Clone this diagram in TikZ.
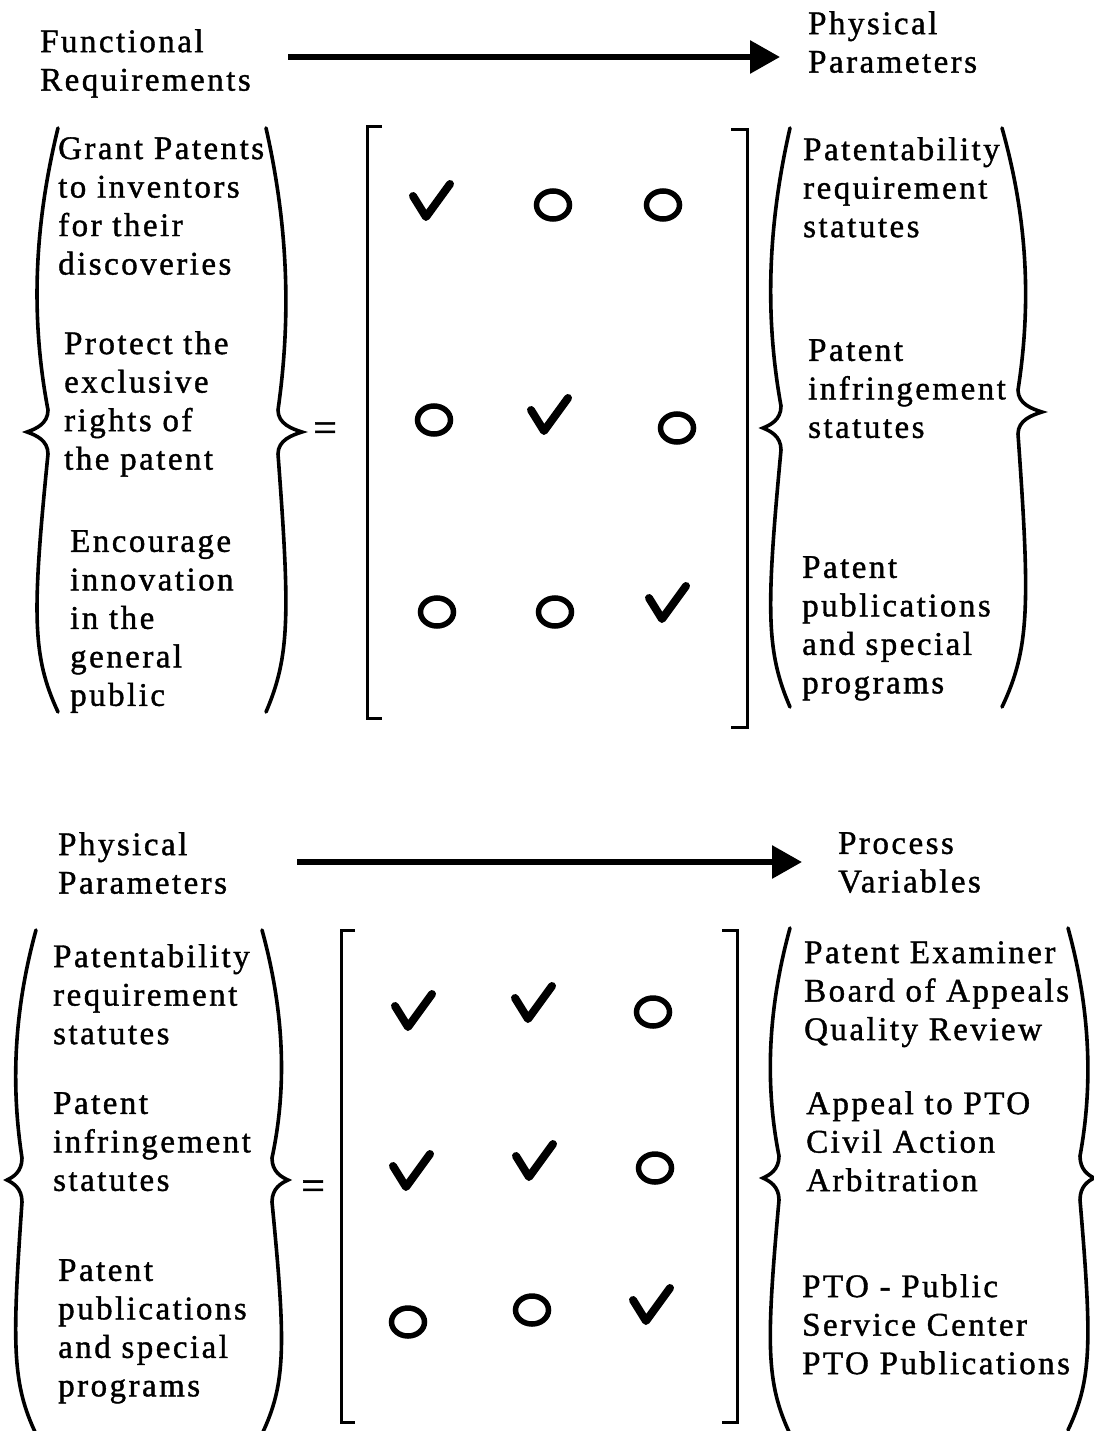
\documentclass[tikz,border=0pt]{standalone}
\usepackage{fontspec}
\setmainfont[LetterSpace=7.5,FakeBold=1.2]{Liberation Serif}
\usetikzlibrary{arrows.meta,shapes.geometric}

% Curly brace: #1 end x, #2 bulge control x, #3 stem x near the tip,
% #4 tip x, #5 top y, #6 tip y, #7 bottom y
\newcommand{\drawbrace}[7]{%
  \draw[brace] (#1,#5)
    .. controls (#2,{#5+0.35*(#6-#5)}) and (#2,{#6-0.35*(#6-#5)}) .. (#3,{#6-22})
    .. controls (#3,{#6-8}) and ({#4+0.4*(#3-#4)},{#6-3}) .. (#4,#6)
    .. controls ({#4+0.4*(#3-#4)},{#6+3}) and (#3,{#6+8}) .. (#3,{#6+22})
    .. controls (#2,{#7-0.35*(#7-#6)}) and (#2,{#7-0.2*(#7-#6)}) .. (#1,#7);}

\begin{document}
\begin{tikzpicture}[x=1pt,y=-1pt,
  lbl/.style={anchor=north west, inner sep=0pt, align=left,
    font=\fontsize{33}{38.5}\selectfont},
  eqsign/.style={inner sep=0pt, font=\fontsize{42}{42}\selectfont},
  flow/.style={line width=6pt, -{Triangle[length=30pt,width=32pt]}},
  brace/.style={line width=3.6pt, line cap=round},
  bracket/.style={line width=3pt},
  ring/.style={ellipse, draw, line width=5.5pt, minimum width=33pt,
    minimum height=28pt, inner sep=0pt},
  tick/.pic={\draw[line width=8pt, line join=round, line cap=round]
    (-17,-6) -- (-4,15) -- (20,-18);}]
\useasboundingbox (0,0) rectangle (1093,1431);

% ---------- FR -> DP ----------
\node[lbl] (fr) at (40,29) {Functional\\Requirements};
\node[lbl] (dp) at (808,11) {Physical\\Parameters};
\coordinate (fa) at (288,57);
\coordinate (fb) at (780,57);
\draw[flow] (fa) -- (fb);

\node[lbl] (fr1) at (58,137) {Grant Patents\\to inventors\\for their\\discoveries};
\node[lbl] (fr2) at (64,331) {Protect the\\exclusive\\rights of\\the patent};
\node[lbl] (fr3) at (70,530) {Encourage\\innovation\\in the\\general\\public};
\drawbrace{58}{32}{48}{27}{128}{432}{712}
\drawbrace{266}{290}{278}{302}{128}{432}{712}

\node[eqsign] (eqa) at (325,432) {=};

\draw[bracket] (382,127) -- (367,127) -- (367,718) -- (382,718);
\draw[bracket] (731,130) -- (747,130) -- (747,727) -- (731,727);

\pic (a11) at (430,202) {tick};
\node[ring] (a12) at (553,205) {};
\node[ring] (a13) at (663,205) {};
\node[ring] (a21) at (434,420) {};
\pic (a22) at (548,416) {tick};
\node[ring] (a23) at (677,428) {};
\node[ring] (a31) at (437,612) {};
\node[ring] (a32) at (555,612) {};
\pic (a33) at (666,604) {tick};

\node[lbl] (dp1) at (803,137) {Patentability\\requirement\\statutes};
\node[lbl] (dp2) at (808,339) {Patent\\infringement\\statutes};
\node[lbl] (dp3) at (802,556) {Patent\\publications\\and special\\programs};
\drawbrace{790}{766}{781}{763}{128}{428}{707}
\drawbrace{1002}{1030}{1018}{1042}{128}{412}{707}

% ---------- DP -> PV ----------
\node[lbl] (dpb) at (58,832) {Physical\\Parameters};
\node[lbl] (pv) at (838,832) {Process\\Variables};
\coordinate (ga) at (297,862);
\coordinate (gb) at (802,862);
\draw[flow] (ga) -- (gb);

\node[lbl] (dq1) at (53,944) {Patentability\\requirement\\statutes};
\node[lbl] (dq2) at (53,1092) {Patent\\infringement\\statutes};
\node[lbl] (dq3) at (58,1259) {Patent\\publications\\and special\\programs};
\drawbrace{36}{12}{22}{7}{930}{1180}{1434}
\drawbrace{262}{286}{272}{288}{930}{1180}{1434}

\node[eqsign] (eqb) at (313,1190) {=};

\draw[bracket] (355,930) -- (341,930) -- (341,1422) -- (355,1422);
\draw[bracket] (722,930) -- (737,930) -- (737,1422) -- (722,1422);

\pic (b11) at (412,1012) {tick};
\pic (b12) at (532,1004) {tick};
\node[ring] (b13) at (653,1012) {};
\pic (b21) at (410,1172) {tick};
\pic (b22) at (533,1162) {tick};
\node[ring] (b23) at (655,1168) {};
\node[ring] (b31) at (408,1322) {};
\node[ring] (b32) at (532,1310) {};
\pic (b33) at (650,1306) {tick};

\node[lbl] (pv1) at (804,941) {Patent Examiner\\Board of Appeals\\Quality Review};
\node[lbl] (pv2) at (806,1091) {Appeal to PTO\\Civil Action\\Arbitration};
\node[lbl] (pv3) at (802,1274) {PTO - Public\\Service Center\\PTO Publications};
\drawbrace{790}{766}{779}{763}{928}{1178}{1434}
\drawbrace{1068}{1092}{1080}{1094}{928}{1178}{1430}
\end{tikzpicture}
\end{document}
